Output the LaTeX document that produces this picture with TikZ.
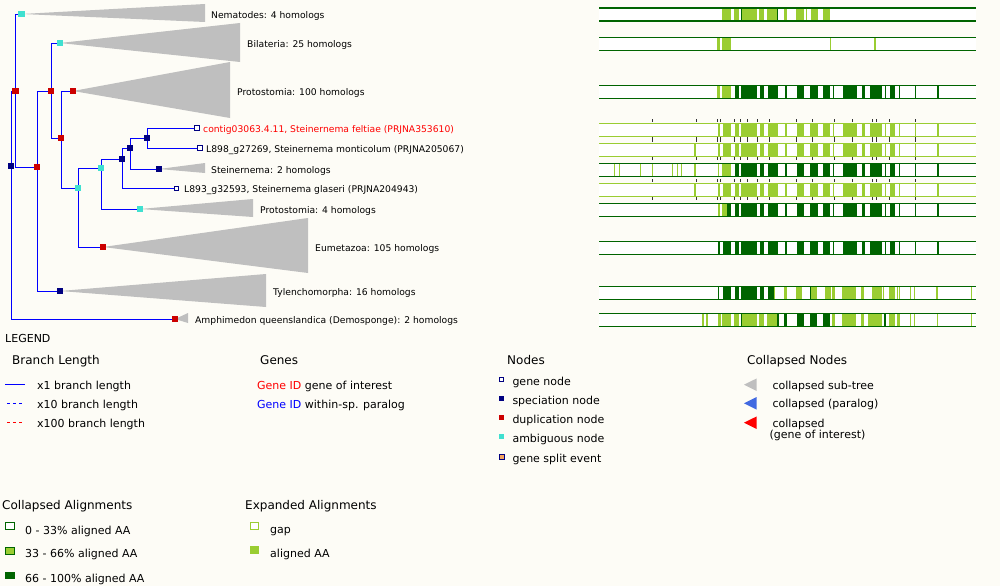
\documentclass[tikz,border=0pt]{standalone}
\usepackage{fontspec}
\setmainfont{DejaVu Sans}
\definecolor{bgc}{RGB}{253,252,246}
\definecolor{navyc}{RGB}{0,0,128}
\definecolor{dupc}{RGB}{204,0,0}
\definecolor{ambc}{RGB}{64,224,208}
\definecolor{trig}{RGB}{191,191,191}
\definecolor{cL}{RGB}{154,205,50}
\definecolor{cD}{RGB}{0,100,0}
\definecolor{splitc}{RGB}{244,164,96}
\definecolor{royal}{RGB}{65,105,225}
\definecolor{tickc}{RGB}{51,51,51}
\definecolor{brc}{RGB}{0,0,255}
\pgfdeclarelayer{bglayer}
\pgfdeclarelayer{edgelayer}
\pgfsetlayers{bglayer,edgelayer,main}
\newcommand{\alnbg}[1]{\fill[white] (599,#1) rectangle (976,#1+13);}
\newcommand{\alnbars}[2]{\foreach \a/\b/\c in {#2} {\fill[\c] (\a,#1) rectangle (\b,#1+13);}}
\newcommand{\alncommon}[2]{\foreach \a/\b in {734.7/738.7,741/756.7,760.3/764.3,768.3/778,785.3/786.7,797/804,810/818,823/829.7,832.7/834,843.3/856.7,862/865.3,870/882,885/886,890/895,899/900,915/916,937.3/938.7} {\fill[#2] (\a,#1) rectangle (\b,#1+13);}}
\newcommand{\alnlines}[2]{\draw[#2,line width=1.3pt] (599,#1) -- (976,#1) (599,#1+13) -- (976,#1+13);}
\newcommand{\alnticks}[2]{\foreach \t in {652.3,696.3,717.7,720.3,734.3,740.5,747.3,757.3,769.3,796.5,812.3,834.5,852.3,872.3,876,889.3,915.3} {\draw[tickc,line width=0.8pt] (\t,#1) -- (\t,#2);}}
\begin{document}
\begin{tikzpicture}[x=1pt,y=-1pt,
  nsq/.style={shape=rectangle,draw=none,minimum size=6.5pt,inner sep=0pt},
  nspec/.style={nsq,fill=navyc},
  ndup/.style={nsq,fill=dupc},
  namb/.style={nsq,fill=ambc},
  ngene/.style={shape=rectangle,draw=navyc,fill=white,line width=0.9pt,minimum size=4.2pt,inner sep=0pt},
  branch/.style={draw=brc,line width=0.9pt},
  tlabel/.style={anchor=mid west,inner sep=0pt,font=\fontsize{9.2}{11}\selectfont},
  leg/.style={anchor=mid west,inner sep=0pt,yshift=-1.8pt,font=\fontsize{11}{13}\selectfont},
  legh/.style={anchor=mid west,inner sep=0pt,yshift=-1.8pt,font=\fontsize{12}{14}\selectfont}]
\useasboundingbox (0,0) rectangle (1000,586);
\begin{pgfonlayer}{bglayer}
\fill[bgc] (0,0) rectangle (1000,586);
\end{pgfonlayer}
% tree nodes
\node[nspec] (root) at (11,166) {};
\node[ndup] (nA) at (15.5,91) {};
\node[namb] (nemat) at (21.7,14) {};
\node[ndup] (nB) at (37,167) {};
\node[ndup] (nC) at (51,91) {};
\node[namb] (bilat) at (60,43) {};
\node[ndup] (nD) at (61,138) {};
\node[ndup] (prot100) at (73,91) {};
\node[namb] (nE) at (78,188) {};
\node[namb] (nF) at (101,168) {};
\node[nspec] (nG) at (122,159) {};
\node[nspec] (nH) at (130,148) {};
\node[nspec] (nI) at (147,138) {};
\node[ngene] (contig) at (197,128) {};
\node[ngene] (l898) at (200,148) {};
\node[nspec] (stein) at (159,169) {};
\node[ngene] (l893) at (176.7,188.7) {};
\node[namb] (prot4) at (140,209) {};
\node[ndup] (eumet) at (103,247) {};
\node[nspec] (tylen) at (60,291) {};
\node[ndup] (amph) at (175,319) {};
\begin{pgfonlayer}{edgelayer}
\draw[branch] (root.center) |- (nA.center);
\draw[branch] (root.center) |- (amph.center);
\draw[branch] (nA.center) |- (nemat.center);
\draw[branch] (nA.center) |- (nB.center);
\draw[branch] (nB.center) |- (nC.center);
\draw[branch] (nB.center) |- (tylen.center);
\draw[branch] (nC.center) |- (bilat.center);
\draw[branch] (nC.center) |- (nD.center);
\draw[branch] (nD.center) |- (prot100.center);
\draw[branch] (nD.center) |- (nE.center);
\draw[branch] (nE.center) |- (nF.center);
\draw[branch] (nE.center) |- (eumet.center);
\draw[branch] (nF.center) |- (nG.center);
\draw[branch] (nF.center) |- (prot4.center);
\draw[branch] (nG.center) |- (nH.center);
\draw[branch] (nG.center) |- (l893.center);
\draw[branch] (nH.center) |- (nI.center);
\draw[branch] (nH.center) |- (stein.center);
\draw[branch] (nI.center) |- (contig.center);
\draw[branch] (nI.center) |- (l898.center);
\fill[trig] (nemat.center) -- (205,4) -- (205,22) -- cycle;
\fill[trig] (bilat.center) -- (240,23) -- (240,62) -- cycle;
\fill[trig] (prot100.center) -- (230,62) -- (230,118) -- cycle;
\fill[trig] (stein.center) -- (205,163) -- (205,173) -- cycle;
\fill[trig] (prot4.center) -- (253,199) -- (253,217) -- cycle;
\fill[trig] (eumet.center) -- (308,218) -- (308,273) -- cycle;
\fill[trig] (tylen.center) -- (266,274) -- (266,307) -- cycle;
\fill[trig] (amph.center) -- (188,313) -- (188,323) -- cycle;
\end{pgfonlayer}
% tree labels
\node[tlabel] (tnemat) at (211,15.5) {Nematodes: 4 homologs};
\node[tlabel] (tbilat) at (247,44.5) {Bilateria: 25 homologs};
\node[tlabel] (tprot100) at (237,92.5) {Protostomia: 100 homologs};
\node[tlabel,text=red] (tcontig) at (203,129.5) {contig03063.4.11, Steinernema feltiae (PRJNA353610)};
\node[tlabel] (tl898) at (206,149.5) {L898\_g27269, Steinernema monticolum (PRJNA205067)};
\node[tlabel] (tstein) at (211,170.5) {Steinernema: 2 homologs};
\node[tlabel] (tl893) at (184,190) {L893\_g32593, Steinernema glaseri (PRJNA204943)};
\node[tlabel] (tprot4) at (260,210.5) {Protostomia: 4 homologs};
\node[tlabel] (teumet) at (315,248.5) {Eumetazoa: 105 homologs};
\node[tlabel] (ttylen) at (273,293) {Tylenchomorpha: 16 homologs};
\node[tlabel] (tamph) at (195,320.5) {Amphimedon queenslandica (Demosponge): 2 homologs};
% alignments
% Nematodes
\alnbg{8}
\alnbars{8}{722/731/cL,734/738.7/cL,741/742/cD,742/756.7/cL,759/764/cL,767/776.7/cL,776.7/778/cD,784/786.7/cL,796/804/cL,806.3/807.3/cL,810.7/818/cL,823/830/cL}
\alnlines{8}{cD}
% Bilateria
\alnbg{37.3}
\alnbars{37.3}{717/720/cL,722/731/cL,830.3/831.3/cL,874/875.7/cL}
\alnlines{37.3}{cD}
% Protostomia 100
\alnbg{85.3}
\alnbars{85.3}{717/720/cL,722/731/cL}
\alncommon{85.3}{cD}
\alnlines{85.3}{cD}
% contig
\alnbg{123.3}
\alnbars{123.3}{718/719.5/cL,723/731/cL}
\alncommon{123.3}{cL}
\alnlines{123.3}{cL}
\alnticks{119.3}{122.3}
\alnticks{137.3}{140.3}
% L898
\alnbg{143.3}
\alnbars{143.3}{694.3/695.7/cL,718/719.5/cL,723/731/cL}
\alncommon{143.3}{cL}
\alnlines{143.3}{cL}
\alnticks{139.3}{142.3}
\alnticks{157.3}{160.3}
% Steinernema
\alnbg{163.3}
\alnbars{163.3}{614/615/cL,619/620/cL,640/641/cL,652/653/cL,672/673/cL,677/678/cL,681/682/cL,694.3/695.7/cL,717.7/719.3/cL,722/730.7/cL}
\alncommon{163.3}{cD}
\alnlines{163.3}{cD}
% L893
\alnbg{183.3}
\alnbars{183.3}{694.3/695.7/cL,718/719.5/cL,723/731/cL}
\alncommon{183.3}{cL}
\alnlines{183.3}{cL}
\alnticks{179.3}{182.3}
\alnticks{197.3}{200.3}
% Protostomia 4
\alnbg{203.3}
\alnbars{203.3}{718/720/cL,722/727/cL,727/731/cD}
\alncommon{203.3}{cD}
\alnlines{203.3}{cD}
% Eumetazoa
\alnbg{241.3}
\alnbars{241.3}{718/719.5/cD,723/731/cD}
\alncommon{241.3}{cD}
\alnlines{241.3}{cD}
% Tylenchomorpha
\alnbg{286.3}
\alnbars{286.3}{717.7/719.3/cD,722.7/730.7/cD,734.7/738.7/cD,741/756.7/cD,760.3/764.3/cD,768.3/773.7/cD,773.7/775/cL,784.3/787/cL,796/802/cL,810/811/cD,811/817/cL,825/831/cL,832.3/835.3/cL,842/855.7/cL,861.3/864.3/cL,872/882/cL,883/884.3/cL,889.3/895.3/cL,896.7/898/cL,899/900.3/cL,909.7/911/cL,914/915/cL,936.3/938.3/cL,971/972/cL}
\alnlines{286.3}{cD}
% Amphimedon
\alnbg{313.3}
\alnbars{313.3}{702/703.7/cL,706/707.7/cL,717.7/720.7/cL,722/730.7/cL,734/738.7/cL,741/742/cD,742/756.7/cL,759/763.7/cL,767/776.7/cL,777.3/778.7/cD,784.3/787/cD,797/803.7/cD,810/817/cD,823/830/cD,832.3/835.3/cL,842/855.7/cL,861.3/864/cL,868.3/882/cL,884.3/885.7/cD,889.3/895.3/cL,896.7/900.3/cL,910/911/cL,914/915/cL,936.7/938.3/cL,971/972/cL}
\alnlines{313.3}{cD}
% legend
\node[leg] (lgtitle) at (5,337.5) {LEGEND};
\node[legh] (hbranch) at (12,360) {Branch Length};
\coordinate (b1a) at (5,384.3); \coordinate (b1b) at (25,384.3);
\draw[brc,line width=1pt] (b1a) -- (b1b);
\node[leg] (tb1) at (37,384.5) {x1 branch length};
\coordinate (b2a) at (7,403.3); \coordinate (b2b) at (24,403.3);
\draw[brc,line width=1pt,dash pattern=on 3pt off 3pt] (b2a) -- (b2b);
\node[leg] (tb2) at (37,403.5) {x10 branch length};
\coordinate (b3a) at (7,422.3); \coordinate (b3b) at (24,422.3);
\draw[red,line width=1pt,dash pattern=on 3pt off 3pt] (b3a) -- (b3b);
\node[leg] (tb3) at (37,422.5) {x100 branch length};
\node[legh] (hgenes) at (260,360) {Genes};
\node[leg] (tg1) at (257,384.5) {\textcolor{red}{Gene ID} gene of interest};
\node[leg] (tg2) at (257,403.5) {\textcolor{brc}{Gene ID} within-sp. paralog};
\node[legh] (hnodes) at (507,360) {Nodes};
\draw[navyc,fill=white,line width=0.9pt] (499.5,377) rectangle (503.5,381);
\node[leg] (tn1) at (512.3,381.3) {gene node};
\fill[navyc] (499,396) rectangle (504,401);
\node[leg] (tn2) at (512.3,400.3) {speciation node};
\fill[dupc] (499,415.3) rectangle (504,420.3);
\node[leg] (tn3) at (512.3,419.3) {duplication node};
\fill[ambc] (499,434) rectangle (504,439);
\node[leg] (tn4) at (512.3,438.3) {ambiguous node};
\draw[navyc,fill=splitc,line width=0.6pt] (499,453.8) rectangle (504,458.8);
\node[leg] (tn5) at (512.3,457.5) {gene split event};
\node[legh] (hcoll) at (747,360) {Collapsed Nodes};
\fill[trig] (744,384.7) -- (756.7,378.4) -- (756.7,391) -- cycle;
\node[leg] (tc1) at (772.3,384.7) {collapsed sub-tree};
\fill[royal] (744,403.3) -- (756.7,397) -- (756.7,409.6) -- cycle;
\node[leg] (tc2) at (772.3,403.3) {collapsed (paralog)};
\fill[red] (744,422.7) -- (756.7,416.4) -- (756.7,429) -- cycle;
\node[leg] (tc3) at (772.3,422.5) {collapsed};
\node[leg] (tc4) at (769.3,433.7) {(gene of interest)};
\node[legh] (hcal) at (2,505) {Collapsed Alignments};
\draw[cD,fill=white,line width=1pt] (5.5,522.2) rectangle (14.5,529.5);
\node[leg] (ta1) at (25,529.5) {0 - 33\% aligned AA};
\draw[cD,fill=cL,line width=1pt] (5.5,547.2) rectangle (14.5,554.5);
\node[leg] (ta2) at (25,553.3) {33 - 66\% aligned AA};
\fill[cD] (5,571.7) rectangle (15,579.3);
\node[leg] (ta3) at (25,577.7) {66 - 100\% aligned AA};
\node[legh] (heal) at (245,505) {Expanded Alignments};
\draw[cL,fill=white,line width=1pt] (250.5,522.8) rectangle (258.8,529.8);
\node[leg] (te1) at (270,528.7) {gap};
\fill[cL] (250,546) rectangle (259.3,554.3);
\node[leg] (te2) at (270,553) {aligned AA};
\end{tikzpicture}
\end{document}
